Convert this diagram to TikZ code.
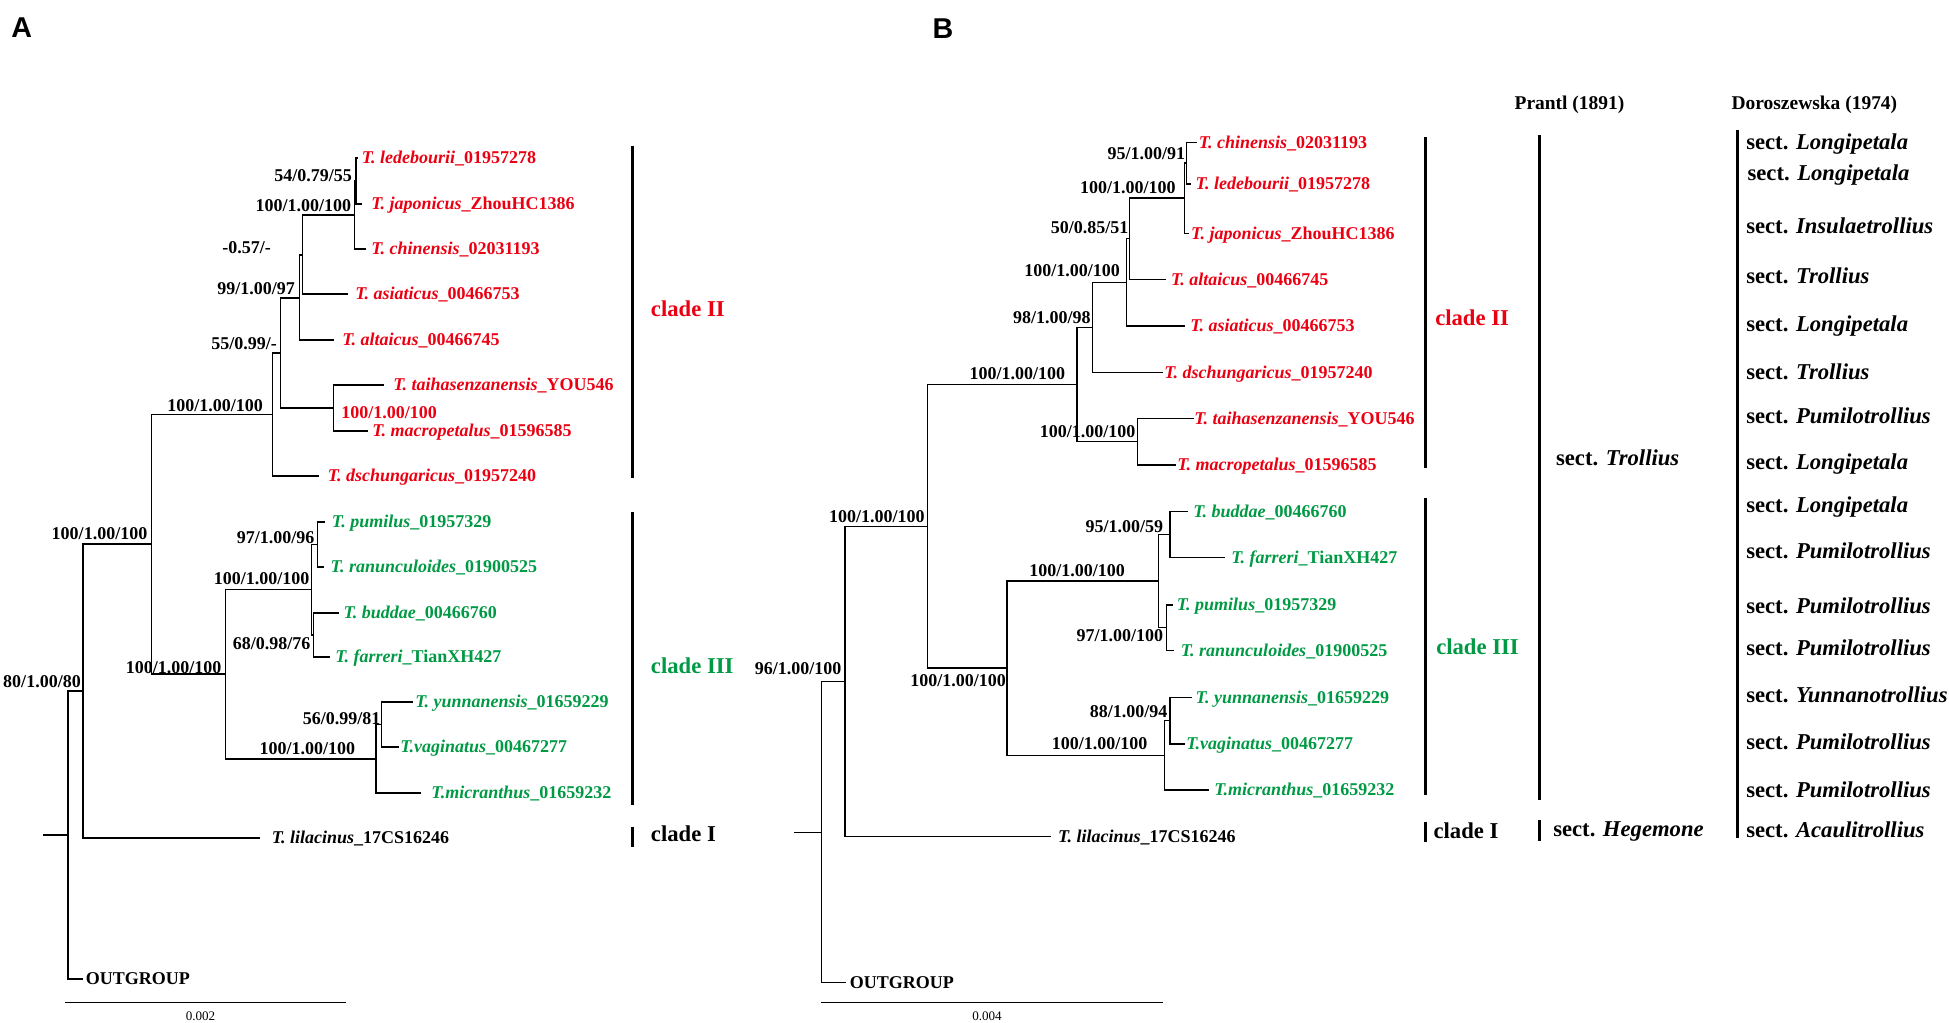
\documentclass[tikz,border=0pt]{standalone}
\usepackage{fontspec}
\setmainfont{Liberation Serif}
\newfontfamily\panelfont{Liberation Sans}
\definecolor{cred}{RGB}{235,0,18}
\definecolor{cgreen}{RGB}{0,153,68}
\newcommand{\spname}[2]{\textit{#1}\_#2}
\begin{document}
\begin{tikzpicture}[x=0.75pt,y=-0.75pt,
  tree/.style={line width=0.9pt,line cap=rect},
  cbar/.style={line width=2.3pt},
  sbar/.style={line width=1.1pt},
  tiplab/.style={anchor=west,inner sep=0pt,font=\fontsize{13.5}{16}\selectfont\bfseries,text height=8.9pt,text depth=0pt},
  suplab/.style={anchor=center,inner sep=0pt,font=\fontsize{13.5}{16}\selectfont\bfseries,text height=9.1pt,text depth=0pt},
  cladelab/.style={anchor=west,inner sep=0pt,font=\fontsize{17}{20}\selectfont\bfseries,text height=11.3pt,text depth=0pt},
  hdr/.style={anchor=center,inner sep=0pt,font=\fontsize{14.6}{17}\selectfont\bfseries,text height=9.7pt,text depth=0pt},
  sclab/.style={anchor=center,inner sep=0pt,font=\fontsize{9.8}{11}\selectfont,text height=6.6pt,text depth=0pt},
  panel/.style={anchor=center,inner sep=0pt,font=\fontsize{21.5}{24}\selectfont\panelfont\bfseries,text height=15.4pt,text depth=0pt}]
\useasboundingbox (0,0) rectangle (1949,1023);

% ================= PANEL A =================
\node[panel] (pA) at (21.75,27.5) {A};
% coordinates
\coordinate (aLJ) at (356,181);
\coordinate (tLedA) at (357.5,158);
\coordinate (tJapA) at (361.5,204);
\coordinate (aC) at (354.5,215);
\coordinate (tChiA) at (365,249);
\coordinate (a2) at (302.6,255);
\coordinate (tAsiA) at (347.4,294);
\coordinate (a3) at (299.3,298);
\coordinate (tAltA) at (333.7,340);
\coordinate (aTM) at (333.7,408);
\coordinate (tTaiA) at (383.5,385);
\coordinate (tMacA) at (367,431);
\coordinate (a4) at (280.3,353);
\coordinate (a5) at (272.8,414.5);
\coordinate (tDscA) at (318.4,476);
\coordinate (a6) at (151.3,544);
\coordinate (aPR) at (317.2,544.5);
\coordinate (tPumA) at (324.2,522);
\coordinate (tRanA) at (323.4,567);
\coordinate (aBF) at (313.8,635);
\coordinate (tBudA) at (337.9,613);
\coordinate (tFarA) at (329.6,657);
\coordinate (a9) at (311.8,589.7);
\coordinate (aYV) at (381.4,724.5);
\coordinate (tYunA) at (412.5,702);
\coordinate (tVagA) at (398,747);
\coordinate (a10) at (376,759);
\coordinate (tMicA) at (420.8,793);
\coordinate (a8) at (225.1,674);
\coordinate (a7) at (82.9,691);
\coordinate (tLilA) at (259.1,838);
\coordinate (aR) at (68,835);
\coordinate (aR0) at (43.5,835);
\coordinate (tOutA) at (82.7,979);
% branches
\draw[tree] (aLJ) |- (tLedA);
\draw[tree] (aLJ) |- (tJapA);
\draw[tree] (aC) |- (aLJ);
\draw[tree] (aC) |- (tChiA);
\draw[tree] (a2) |- (aC);
\draw[tree] (a2) |- (tAsiA);
\draw[tree] (a3) |- (a2);
\draw[tree] (a3) |- (tAltA);
\draw[tree] (aTM) |- (tTaiA);
\draw[tree] (aTM) |- (tMacA);
\draw[tree] (a4) |- (a3);
\draw[tree] (a4) |- (aTM);
\draw[tree] (a5) |- (a4);
\draw[tree] (a5) |- (tDscA);
\draw[tree] (a6) |- (a5);
\draw[tree] (a6) |- (a8);
\draw[tree] (aPR) |- (tPumA);
\draw[tree] (aPR) |- (tRanA);
\draw[tree] (aBF) |- (tBudA);
\draw[tree] (aBF) |- (tFarA);
\draw[tree] (a9) |- (aPR);
\draw[tree] (a9) |- (aBF);
\draw[tree] (aYV) |- (tYunA);
\draw[tree] (aYV) |- (tVagA);
\draw[tree] (a10) |- (aYV);
\draw[tree] (a10) |- (tMicA);
\draw[tree] (a8) |- (a9);
\draw[tree] (a8) |- (a10);
\draw[tree] (a7) |- (a6);
\draw[tree] (a7) |- (tLilA);
\draw[tree] (aR) |- (a7);
\draw[tree] (aR) |- (tOutA);
\draw[tree] (aR0) -- (aR);
% tip labels
\node[tiplab,cred] (lLedA) at (361.5,158) {\spname{T. ledebourii}{01957278}};
\node[tiplab,cred] (lJapA) at (371,204) {\spname{T. japonicus}{ZhouHC1386}};
\node[tiplab,cred] (lChiA) at (371,249) {\spname{T. chinensis}{02031193}};
\node[tiplab,cred] (lAsiA) at (355,294) {\spname{T. asiaticus}{00466753}};
\node[tiplab,cred] (lAltA) at (342,340) {\spname{T. altaicus}{00466745}};
\node[tiplab,cred] (lTaiA) at (393,385) {\spname{T. taihasenzanensis}{YOU546}};
\node[tiplab,cred] (lMacA) at (372,431) {\spname{T. macropetalus}{01596585}};
\node[tiplab,cred] (lDscA) at (327.5,476) {\spname{T. dschungaricus}{01957240}};
\node[tiplab,cgreen] (lPumA) at (331.7,522) {\spname{T. pumilus}{01957329}};
\node[tiplab,cgreen] (lRanA) at (330.4,567) {\spname{T. ranunculoides}{01900525}};
\node[tiplab,cgreen] (lBudA) at (343.3,613) {\spname{T. buddae}{00466760}};
\node[tiplab,cgreen] (lFarA) at (335,657) {\spname{T. farreri}{TianXH427}};
\node[tiplab,cgreen] (lYunA) at (415,702) {\spname{T. yunnanensis}{01659229}};
\node[tiplab,cgreen] (lVagA) at (400,747) {\spname{T.vaginatus}{00467277}};
\node[tiplab,cgreen] (lMicA) at (431.2,793) {\spname{T.micranthus}{01659232}};
\node[tiplab] (lLilA) at (271.6,838) {\spname{T. lilacinus}{17CS16246}};
\node[tiplab] (lOutA) at (85.7,979) {OUTGROUP};
% support values
\node[suplab] (sA1) at (313,175) {54/0.79/55};
\node[suplab] (sA2) at (303.3,205.7) {100/1.00/100};
\node[suplab] (sA3) at (246.7,247) {-0.57/-};
\node[suplab] (sA4) at (256.2,288) {99/1.00/97};
\node[suplab] (sA5) at (244.2,343) {55/0.99/-};
\node[suplab,cred] (sA6) at (389.1,412) {100/1.00/100};
\node[suplab] (sA7) at (215,405) {100/1.00/100};
\node[suplab] (sA8) at (99.5,533) {100/1.00/100};
\node[suplab] (sA9) at (173.7,667) {100/1.00/100};
\node[suplab] (sA10) at (275.7,537) {97/1.00/96};
\node[suplab] (sA11) at (261.6,578) {100/1.00/100};
\node[suplab] (sA12) at (271.6,643) {68/0.98/76};
\node[suplab] (sA13) at (341.6,718) {56/0.99/81};
\node[suplab] (sA14) at (307.4,748) {100/1.00/100};
\node[suplab] (sA15) at (42,681) {80/1.00/80};
% clade bars A
\coordinate (bA1t) at (632.3,146); \coordinate (bA1b) at (632.3,478);
\coordinate (bA2t) at (632.3,512); \coordinate (bA2b) at (632.3,805);
\coordinate (bA3t) at (632.3,827); \coordinate (bA3b) at (632.3,847);
\draw[cbar] (bA1t) -- (bA1b);
\draw[cbar] (bA2t) -- (bA2b);
\draw[cbar] (bA3t) -- (bA3b);
\node[cladelab,cred] (cA2) at (650.7,309.3) {clade II};
\node[cladelab,cgreen] (cA3) at (650.7,666) {clade III};
\node[cladelab] (cA1) at (650.7,834) {clade I};
% scale bar A
\coordinate (scA1) at (65,1002.7); \coordinate (scA2) at (346,1002.7);
\draw[sbar] (scA1) -- (scA2);
\node[sclab] (scAl) at (200.5,1016) {0.002};

% ================= PANEL B =================
\node[panel] (pB) at (943,28.7) {B};
\coordinate (bCL) at (1186.4,163);
\coordinate (tChiB) at (1196.2,142.3);
\coordinate (tLedB) at (1190,184);
\coordinate (b1) at (1184.2,198);
\coordinate (tJapB) at (1188,233.3);
\coordinate (b2) at (1129.7,238.7);
\coordinate (tAltB) at (1165,279.3);
\coordinate (b3) at (1126.6,282.5);
\coordinate (tAsiB) at (1184.2,326);
\coordinate (b4) at (1092.7,327.6);
\coordinate (tDscB) at (1161.9,372.7);
\coordinate (bTM) at (1137.3,441.7);
\coordinate (tTaiB) at (1193,418.3);
\coordinate (tMacB) at (1175.3,465);
\coordinate (b5) at (1077,384.6);
\coordinate (b6) at (927.5,526.5);
\coordinate (bBF) at (1169.9,534.7);
\coordinate (tBudB) at (1187.8,511.7);
\coordinate (tFarB) at (1224.4,557.7);
\coordinate (bPR) at (1166.3,627.8);
\coordinate (tPumB) at (1172.1,605);
\coordinate (tRanB) at (1173,650.7);
\coordinate (b9) at (1158.8,581);
\coordinate (bYV) at (1169.9,720.7);
\coordinate (tYunB) at (1190.9,697.3);
\coordinate (tVagB) at (1184.2,744);
\coordinate (b10) at (1164.1,755.3);
\coordinate (tMicB) at (1208.75,790);
\coordinate (b8) at (1007,668);
\coordinate (b7) at (844.9,681.7);
\coordinate (tLilB) at (1050.3,836.7);
\coordinate (bR) at (821.25,832.2);
\coordinate (bR0) at (794.5,832.2);
\coordinate (tOutB) at (845.6,982.7);
\draw[tree] (bCL) |- (tChiB);
\draw[tree] (bCL) |- (tLedB);
\draw[tree] (b1) |- (bCL);
\draw[tree] (b1) |- (tJapB);
\draw[tree] (b2) |- (b1);
\draw[tree] (b2) |- (tAltB);
\draw[tree] (b3) |- (b2);
\draw[tree] (b3) |- (tAsiB);
\draw[tree] (b4) |- (b3);
\draw[tree] (b4) |- (tDscB);
\draw[tree] (bTM) |- (tTaiB);
\draw[tree] (bTM) |- (tMacB);
\draw[tree] (b5) |- (b4);
\draw[tree] (b5) |- (bTM);
\draw[tree] (b6) |- (b5);
\draw[tree] (b6) |- (b8);
\draw[tree] (bBF) |- (tBudB);
\draw[tree] (bBF) |- (tFarB);
\draw[tree] (bPR) |- (tPumB);
\draw[tree] (bPR) |- (tRanB);
\draw[tree] (b9) |- (bBF);
\draw[tree] (b9) |- (bPR);
\draw[tree] (bYV) |- (tYunB);
\draw[tree] (bYV) |- (tVagB);
\draw[tree] (b10) |- (bYV);
\draw[tree] (b10) |- (tMicB);
\draw[tree] (b8) |- (b9);
\draw[tree] (b8) |- (b10);
\draw[tree] (b7) |- (b6);
\draw[tree] (b7) |- (tLilB);
\draw[tree] (bR) |- (b7);
\draw[tree] (bR) |- (tOutB);
\draw[tree] (bR0) -- (bR);
% tip labels B
\node[tiplab,cred] (lChiB) at (1198.5,142.3) {\spname{T. chinensis}{02031193}};
\node[tiplab,cred] (lLedB) at (1195.4,184) {\spname{T. ledebourii}{01957278}};
\node[tiplab,cred] (lJapB) at (1190.9,233.3) {\spname{T. japonicus}{ZhouHC1386}};
\node[tiplab,cred] (lAltB) at (1170.8,279.3) {\spname{T. altaicus}{00466745}};
\node[tiplab,cred] (lAsiB) at (1190,326) {\spname{T. asiaticus}{00466753}};
\node[tiplab,cred] (lDscB) at (1164,372.7) {\spname{T. dschungaricus}{01957240}};
\node[tiplab,cred] (lTaiB) at (1194,418.3) {\spname{T. taihasenzanensis}{YOU546}};
\node[tiplab,cred] (lMacB) at (1177,465) {\spname{T. macropetalus}{01596585}};
\node[tiplab,cgreen] (lBudB) at (1193.1,511.7) {\spname{T. buddae}{00466760}};
\node[tiplab,cgreen] (lFarB) at (1231.1,557.7) {\spname{T. farreri}{TianXH427}};
\node[tiplab,cgreen] (lPumB) at (1176.6,605) {\spname{T. pumilus}{01957329}};
\node[tiplab,cgreen] (lRanB) at (1180.6,650.7) {\spname{T. ranunculoides}{01900525}};
\node[tiplab,cgreen] (lYunB) at (1195.4,697.3) {\spname{T. yunnanensis}{01659229}};
\node[tiplab,cgreen] (lVagB) at (1186,744) {\spname{T.vaginatus}{00467277}};
\node[tiplab,cgreen] (lMicB) at (1214.1,790) {\spname{T.micranthus}{01659232}};
\node[tiplab] (lLilB) at (1057.9,836.7) {\spname{T. lilacinus}{17CS16246}};
\node[tiplab] (lOutB) at (849.5,982.7) {OUTGROUP};
% support values B
\node[suplab] (sB1) at (1146.3,153.3) {95/1.00/91};
\node[suplab] (sB2) at (1127.8,187.3) {100/1.00/100};
\node[suplab] (sB3) at (1089.7,227.7) {50/0.85/51};
\node[suplab] (sB4) at (1072.2,270.7) {100/1.00/100};
\node[suplab] (sB5) at (1051.8,317.3) {98/1.00/98};
\node[suplab] (sB6) at (1017.3,373.3) {100/1.00/100};
\node[suplab] (sB7) at (1087.5,431.7) {100/1.00/100};
\node[suplab] (sB8) at (876.9,516.7) {100/1.00/100};
\node[suplab] (sB9) at (1124.4,526.7) {95/1.00/59};
\node[suplab] (sB10) at (1077,570) {100/1.00/100};
\node[suplab] (sB11) at (1119.9,635) {97/1.00/100};
\node[suplab] (sB12) at (798,668.3) {96/1.00/100};
\node[suplab] (sB13) at (958,680) {100/1.00/100};
\node[suplab] (sB14) at (1128.6,711.7) {88/1.00/94};
\node[suplab] (sB15) at (1099.6,743.3) {100/1.00/100};
% clade bars B
\coordinate (bB1t) at (1425.3,137.3); \coordinate (bB1b) at (1425.3,468.3);
\coordinate (bB2t) at (1425.3,498.3); \coordinate (bB2b) at (1425.3,795);
\coordinate (bB3t) at (1425.3,821.7); \coordinate (bB3b) at (1425.3,841.7);
\draw[cbar] (bB1t) -- (bB1b);
\draw[cbar] (bB2t) -- (bB2b);
\draw[cbar] (bB3t) -- (bB3b);
\node[cladelab,cred] (cB2) at (1435,318.3) {clade II};
\node[cladelab,cgreen] (cB3) at (1436,646.7) {clade III};
\node[cladelab] (cB1) at (1433.3,830.7) {clade I};
% Prantl column
\node[hdr] (hP) at (1569.5,103.3) {Prantl (1891)};
\coordinate (pP1t) at (1539.4,135); \coordinate (pP1b) at (1539.4,800);
\coordinate (pP2t) at (1539.4,820); \coordinate (pP2b) at (1539.4,840.7);
\draw[cbar] (pP1t) -- (pP1b);
\draw[cbar] (pP2t) -- (pP2b);
\node[cladelab] (prT) at (1555.8,458.3) {sect. \textit{Trollius}};
\node[cladelab] (prH) at (1553,829.3) {sect. \textit{Hegemone}};
% Doroszewska column
\node[hdr] (hD) at (1814.4,103.3) {Doroszewska (1974)};
\coordinate (dBt) at (1737.9,130); \coordinate (dBb) at (1737.9,838.3);
\draw[cbar] (dBt) -- (dBb);
\node[cladelab] (d1) at (1746,141.7) {sect. \textit{Longipetala}};
\node[cladelab] (d2) at (1747.3,173.3) {sect. \textit{Longipetala}};
\node[cladelab] (d3) at (1746,226) {sect. \textit{Insulaetrollius}};
\node[cladelab] (d4) at (1746,276) {sect. \textit{Trollius}};
\node[cladelab] (d5) at (1746,324.3) {sect. \textit{Longipetala}};
\node[cladelab] (d6) at (1746,371.7) {sect. \textit{Trollius}};
\node[cladelab] (d7) at (1746,416) {sect. \textit{Pumilotrollius}};
\node[cladelab] (d8) at (1746,461.7) {sect. \textit{Longipetala}};
\node[cladelab] (d9) at (1746,505) {sect. \textit{Longipetala}};
\node[cladelab] (d10) at (1746,550.7) {sect. \textit{Pumilotrollius}};
\node[cladelab] (d11) at (1746,606) {sect. \textit{Pumilotrollius}};
\node[cladelab] (d12) at (1746,648.3) {sect. \textit{Pumilotrollius}};
\node[cladelab] (d13) at (1746,695) {sect. \textit{Yunnanotrollius}};
\node[cladelab] (d14) at (1746,741.7) {sect. \textit{Pumilotrollius}};
\node[cladelab] (d15) at (1746,790) {sect. \textit{Pumilotrollius}};
\node[cladelab] (d16) at (1746,830) {sect. \textit{Acaulitrollius}};
% scale bar B
\coordinate (scB1) at (821,1002.3); \coordinate (scB2) at (1163,1002.3);
\draw[sbar] (scB1) -- (scB2);
\node[sclab] (scBl) at (987,1016) {0.004};
\end{tikzpicture}
\end{document}
